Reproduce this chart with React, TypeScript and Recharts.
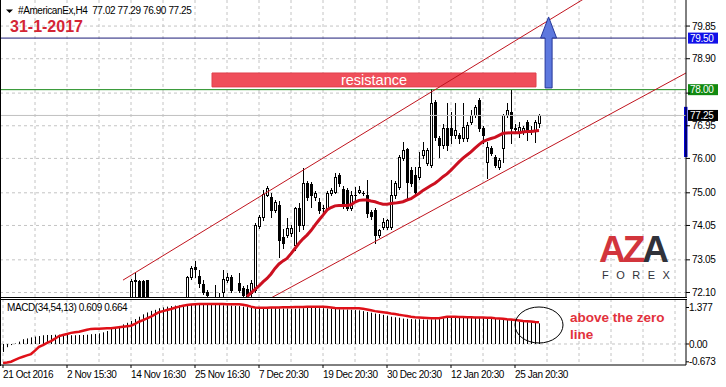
import React from 'react'
import {
  ComposedChart,
  Bar,
  Line,
  XAxis,
  YAxis,
  CartesianGrid,
  ReferenceLine,
  ReferenceArea,
  ReferenceDot,
} from 'recharts'

const FONT = "'Liberation Sans', Arial, sans-serif"

// x axis: one unit per H4 bar
const BAR_COUNT = 135
const X_DOMAIN = [-0.75, 170.75]
const GRID_X = [0, 8, 16, 24, 32, 40, 48, 56, 64, 72, 80, 88, 96, 104, 112, 120, 128, 136, 144, 152, 160, 168]
const DATE_TICKS = [0, 16, 32, 48, 64, 80, 96, 112, 128]
const DATE_LABELS = [
  '21 Oct 2016',
  '2 Nov 15:30',
  '14 Nov 16:30',
  '25 Nov 16:30',
  '7 Dec 20:30',
  '19 Dec 20:30',
  '30 Dec 20:30',
  '12 Jan 20:30',
  '25 Jan 20:30',
]

const PRICE_DOMAIN = [71.969, 80.608]
const PRICE_TICKS = [72.1, 73.05, 74.05, 75.0, 76.0, 76.95, 77.9, 78.9, 79.85]
const MACD_DOMAIN = [-0.7925, 1.698]
const MACD_TICKS = [-0.673, 0, 1.377]

// candles, first one at bar 32 (earlier bars sit below the visible range)
const CANDLE_FIRST = 32
const OPEN = [
  71.8, 72.42, 72.44, 72.44, 72.45, null, null, null, null, null,
  null, null, null, null, 71.85, 72.56, 72.83, 72.58, 72.35, 72.12,
  null, 71.95, 71.9, 72.1, 72.46, 72.56, null, 72.37, 72.22, 72.21,
  72.08, 72.17, 74.03, 74.3, 74.94, 74.89, 74.5, 74.65, 73.72, 73.77,
  73.82, 73.48, 74.55, 74.06, 75.28, 75.25, 74.89, 74.74, 74.55, 74.55,
  74.99, 75.03, 75.52, 75.1, 75.08, 74.55, 74.93, 75.03, 74.99, 74.94,
  74.45, 74.5, 73.77, 74.01, 74.01, 74.01, 74.94, 75.18, 76.0, 76.27,
  75.66, 75.52, 75.47, 76.1, 75.86, 75.81, 77.65, 76.59, 76.39, 76.88,
  76.88, 76.68, 76.68, 76.59, 76.59, 77.07, 77.26, 77.7, 76.88, 75.9,
  76.29, 76.05, 75.76, 76.29, 77.26, 77.36, 76.88, 76.78, 76.78, 77.07,
  76.83, 76.83, 77.02,
]
const HIGH = [
  72.5, 72.68, 72.46, 72.45, 72.46, null, null, null, null, null,
  null, null, null, null, 72.58, 72.87, 73.02, 72.75, 72.46, 72.18,
  null, 72.32, 72.08, 72.75, 72.66, 72.62, null, 72.66, 72.3, 72.32,
  72.46, 74.11, 74.35, 75.08, 75.2, 75.0, 74.8, 74.75, 73.95, 74.26,
  74.05, 74.6, 74.7, 75.71, 75.35, 75.3, 75.05, 74.84, 74.65, 75.05,
  75.15, 75.57, 75.57, 75.2, 75.15, 75.05, 75.18, 75.2, 75.05, 75.37,
  74.5, 74.55, 73.95, 74.26, 74.25, 75.37, 75.35, 76.1, 76.49, 76.3,
  75.75, 75.76, 76.2, 76.49, 76.3, 78.01, 77.7, 76.65, 77.0, 77.6,
  77.36, 77.6, 76.75, 77.6, 77.07, 77.41, 77.55, 77.75, 76.95, 76.49,
  76.35, 76.1, 76.0, 77.3, 77.6, 78.0, 77.0, 77.07, 76.95, 77.12,
  76.95, 77.12, 77.29,
]
const LOW = [
  71.7, 71.9, 71.7, 71.7, 71.8, null, null, null, null, null,
  null, null, null, null, 71.8, 72.5, 72.55, 72.27, 72.05, 71.9,
  null, 71.7, 71.7, 71.95, 72.4, 72.1, null, 72.1, 71.95, 71.9,
  72.0, 72.1, 73.97, 74.2, 74.9, 74.3, 74.45, 73.14, 73.4, 73.7,
  73.75, 73.35, 73.9, 73.95, 74.8, 74.6, 74.8, 74.4, 74.45, 74.5,
  74.95, 75.0, 75.2, 74.55, 74.5, 74.5, 74.8, 74.98, 74.93, 74.3,
  74.25, 73.53, 73.7, 73.95, 73.95, 73.95, 74.85, 75.1, 75.95, 74.84,
  75.2, 74.95, 75.4, 76.0, 75.8, 75.75, 76.55, 76.05, 76.3, 76.24,
  76.44, 76.6, 76.44, 76.5, 76.5, 77.0, 77.2, 76.8, 76.44, 75.43,
  76.1, 75.75, 75.7, 75.9, 77.2, 76.44, 76.75, 76.63, 76.7, 76.54,
  76.7, 76.49, 76.9,
]
const CLOSE = [
  72.44, 72.46, 71.8, 71.85, 71.9, null, null, null, null, null,
  null, null, null, null, 72.56, 72.8, 72.77, 72.37, 72.12, 72.03,
  null, 71.8, 71.85, 72.5, 72.56, 72.17, null, 72.17, 72.03, 71.98,
  72.37, 74.06, 74.29, 74.97, 75.13, 74.5, 74.74, 73.63, 73.53, 73.97,
  73.97, 74.55, 74.06, 75.28, 74.89, 74.94, 74.99, 74.5, 74.56, 74.99,
  75.08, 75.47, 75.28, 74.65, 74.56, 74.94, 74.95, 75.08, 75.0, 74.4,
  74.33, 73.77, 73.92, 74.16, 74.21, 74.94, 75.28, 76.05, 76.24, 75.32,
  75.28, 75.03, 75.76, 76.24, 76.24, 77.6, 76.63, 76.39, 76.88, 76.39,
  76.68, 76.83, 76.59, 76.92, 76.97, 77.26, 77.5, 76.88, 76.68, 76.34,
  76.15, 75.81, 75.95, 77.26, 77.41, 76.88, 76.86, 76.92, 76.88, 76.78,
  76.82, 77.07, 77.25,
]

// moving average, visible from bar 61
const MA_FIRST = 61
const MA = [
  71.98, 72.09, 72.19, 72.29, 72.41, 72.51, 72.64, 72.8, 72.93, 73.02,
  73.09, 73.23, 73.38, 73.53, 73.66, 73.77, 73.9, 74.06, 74.21, 74.35,
  74.5, 74.57, 74.62, 74.63, 74.63, 74.63, 74.65, 74.73, 74.78, 74.79,
  74.79, 74.76, 74.74, 74.7, 74.67, 74.67, 74.69, 74.7, 74.72, 74.74,
  74.79, 74.83, 74.91, 74.98, 75.07, 75.14, 75.21, 75.28, 75.37, 75.47,
  75.55, 75.66, 75.78, 75.9, 76.01, 76.1, 76.19, 76.3, 76.4, 76.49,
  76.54, 76.58, 76.61, 76.67, 76.73, 76.74, 76.75, 76.75, 76.75, 76.77,
  76.78, 76.78, 76.8, 76.81,
]

// MACD(34,54,13): main as histogram, signal as line
const MACD_HIST = [
  -0.3, -0.12, -0.04, 0.02, 0.09, 0.18, 0.21, 0.25, 0.28, 0.3,
  0.33, 0.34, 0.34, 0.35, 0.35, 0.35, 0.34, 0.33, 0.33, 0.34,
  0.34, 0.35, 0.37, 0.38, 0.4, 0.44, 0.49, 0.57, 0.62, 0.68,
  0.74, 0.8, 0.87, 0.94, 1.03, 1.12, 1.19, 1.25, 1.29, 1.35,
  1.38, 1.41, 1.43, 1.45, 1.46, 1.47, 1.47, 1.48, 1.48, 1.48,
  1.48, 1.48, 1.47, 1.47, 1.47, 1.46, 1.46, 1.45, 1.44, 1.43,
  1.41, 1.39, 1.37, 1.35, 1.34, 1.34, 1.35, 1.35, 1.35, 1.34,
  1.34, 1.34, 1.33, 1.33, 1.34, 1.35, 1.36, 1.36, 1.36, 1.35,
  1.35, 1.34, 1.33, 1.32, 1.31, 1.3, 1.3, 1.29, 1.28, 1.27,
  1.24, 1.21, 1.18, 1.15, 1.13, 1.1, 1.07, 1.03, 1.01, 0.99,
  0.96, 0.95, 0.94, 0.93, 0.93, 0.92, 0.92, 0.93, 0.93, 0.94,
  0.97, 1.0, 1.01, 1.02, 1.02, 1.02, 1.02, 1.02, 1.02, 1.02,
  1.01, 1.0, 0.99, 0.96, 0.93, 0.92, 0.91, 0.9, 0.87, 0.84,
  0.83, 0.82, 0.81, 0.79, 0.78,
]
const MACD_SIGNAL = [
  -0.72, -0.7, -0.67, -0.6, -0.53, -0.48, -0.43, -0.38, -0.25, -0.11,
  -0.04, 0.04, 0.11, 0.2, 0.3, 0.34, 0.38, 0.42, 0.44, 0.46,
  0.5, 0.54, 0.57, 0.575, 0.58, 0.585, 0.59, 0.59, 0.61, 0.63,
  0.65, 0.67, 0.69, 0.76, 0.84, 0.9, 0.97, 1.03, 1.12, 1.2,
  1.24, 1.28, 1.32, 1.37, 1.41, 1.44, 1.47, 1.49, 1.5, 1.51,
  1.51, 1.51, 1.51, 1.51, 1.51, 1.51, 1.5, 1.5, 1.5, 1.5,
  1.48, 1.45, 1.41, 1.38, 1.37, 1.37, 1.37, 1.38, 1.38, 1.38,
  1.39, 1.39, 1.39, 1.4, 1.4, 1.4, 1.41, 1.41, 1.41, 1.41,
  1.41, 1.4, 1.38, 1.36, 1.35, 1.35, 1.35, 1.35, 1.35, 1.35,
  1.33, 1.3, 1.27, 1.24, 1.22, 1.2, 1.18, 1.15, 1.13, 1.1,
  1.08, 1.06, 1.03, 1.01, 1.0, 0.99, 0.98, 0.97, 0.97, 0.97,
  1.0, 1.03, 1.03, 1.03, 1.02, 1.02, 1.01, 1.01, 1.0, 1.0,
  1.0, 0.99, 0.99, 0.97, 0.96, 0.95, 0.93, 0.92, 0.91, 0.89,
  0.87, 0.86, 0.85, 0.83, 0.82,
]

// drawn objects on the price panel (bar index, price)
const LEVEL_BLUE = 79.5
const LEVEL_GREEN = 78.0
const LAST_PRICE = 77.25
const UPPER_CHANNEL = [{ x: 30, y: 72.46 }, { x: 146.75, y: 80.75 }]
const LOWER_CHANNEL = [{ x: 66.75, y: 71.925 }, { x: 170.75, y: 78.485 }]
const RESISTANCE_BOX = { x1: 52.25, x2: 133.25, y1: 78.08, y2: 78.485 }
const ARROW_BASE = { x: 136.4, y: 78.05 }
const RANGE_MARK = { x1: 170.25, x2: 171.125, y1: 76.04, y2: 77.5 }

const priceRows = Array.from({ length: BAR_COUNT }, (_, i) => {
  const k = i - CANDLE_FIRST
  const o = k >= 0 ? OPEN[k] : null
  const m = i - MA_FIRST
  return {
    i,
    o,
    h: k >= 0 ? HIGH[k] : null,
    l: k >= 0 ? LOW[k] : null,
    c: k >= 0 ? CLOSE[k] : null,
    range: o != null ? [LOW[k], HIGH[k]] : null,
    ma: m >= 0 ? MA[m] : null,
  }
})

const macdRows = Array.from({ length: BAR_COUNT }, (_, i) => ({
  i,
  hist: MACD_HIST[i],
  signal: MACD_SIGNAL[i],
}))

function Candle(props: any) {
  const { x, y, width, height, payload } = props
  if (!payload || payload.o == null || !(height > 0)) return <g />
  const { o, h, l, c } = payload
  const k = height / (h - l)
  const cx = Math.round(x + width / 2)
  const yo = y + (h - o) * k
  const yc = y + (h - c) * k
  const top = Math.round(Math.min(yo, yc))
  const bot = Math.round(Math.max(yo, yc))
  return (
    <g>
      <line x1={cx + 0.5} x2={cx + 0.5} y1={Math.round(y)} y2={Math.round(y + height) + 1} stroke="#000" />
      {bot - top < 1 ? (
        <line x1={cx - 1} x2={cx + 2} y1={top + 0.5} y2={top + 0.5} stroke="#000" />
      ) : (
        <rect x={cx - 0.5} y={top + 0.5} width={2} height={bot - top} fill={c >= o ? '#fff' : '#000'} stroke="#000" />
      )}
    </g>
  )
}

function HistBar(props: any) {
  const { x, y, width, height } = props
  if (!(Math.abs(height) > 0)) return <g />
  const cx = Math.round(x + width / 2)
  return <rect x={cx} y={Math.min(y, y + height)} width={1} height={Math.abs(height)} fill="#000" />
}

function Arrow(props: any) {
  const { cx, cy } = props
  const pts = [
    [cx - 3.5, cy],
    [cx - 3.5, cy - 50],
    [cx - 8, cy - 50],
    [cx, cy - 71],
    [cx + 8, cy - 50],
    [cx + 3.5, cy - 50],
    [cx + 3.5, cy],
  ]
  return <polygon points={pts.map((p) => p.join(',')).join(' ')} fill="#5d78de" stroke="#26389a" strokeWidth={1} />
}

const priceTag = (bg: string, value: number) => (props: any) => {
  const vb = props.viewBox
  const x = vb.x + vb.width + 2
  const y = vb.y
  return (
    <g>
      <rect x={x} y={y - 5.5} width={30} height={11} fill={bg} />
      <text x={x + 2} y={y + 3.6} fill="#fff" fontSize={10} fontFamily={FONT} letterSpacing={-0.3}>
        {value.toFixed(2)}
      </text>
    </g>
  )
}

const resistanceLabel = (props: any) => {
  const vb = props.viewBox
  return (
    <text
      x={vb.x + vb.width / 2}
      y={vb.y + vb.height / 2 + 5}
      textAnchor="middle"
      fill="#fff"
      fontSize={14.5}
      fontFamily={FONT}
    >
      resistance
    </text>
  )
}

function PriceTick(props: any) {
  const { x, y, payload } = props
  if (payload.value === 77.9) return <g />
  return (
    <text x={x} y={y} dy={3.6} fontSize={10} fontFamily={FONT} letterSpacing={-0.3} fill="#000">
      {payload.value.toFixed(2)}
    </text>
  )
}

function MacdTick(props: any) {
  const { x, y, payload } = props
  const v = payload.value
  return (
    <text x={x} y={y} dy={3.6} fontSize={10} fontFamily={FONT} letterSpacing={-0.3} fill="#000">
      {v === 0 ? '0.00' : v.toFixed(3)}
    </text>
  )
}

function DateTick(props: any) {
  const { x, y, payload } = props
  const label = DATE_LABELS[DATE_TICKS.indexOf(payload.value)]
  return (
    <text x={x} y={y + 8} fontSize={10} fontFamily={FONT} letterSpacing={-0.4} fill="#000">
      {label}
    </text>
  )
}

const gridProps = { stroke: '#c4c4c4', strokeDasharray: '3 3' }

export default function App() {
  return (
    <div style={{ position: 'absolute', left: 0, top: 0, width: 726, height: 387, background: '#fff', overflow: 'hidden' }}>
      <div style={{ position: 'absolute', left: 0, top: 0 }}>
        <ComposedChart width={726} height={297} data={priceRows} margin={{ top: 0, right: 0, bottom: 0, left: 0 }}>
          <CartesianGrid {...gridProps} verticalValues={GRID_X} horizontalValues={PRICE_TICKS} />
          <XAxis type="number" dataKey="i" domain={X_DOMAIN} allowDataOverflow hide ticks={GRID_X} />
          <YAxis
            orientation="right"
            width={40}
            type="number"
            domain={PRICE_DOMAIN}
            allowDataOverflow
            ticks={PRICE_TICKS}
            interval={0}
            tickSize={4}
            tickMargin={2}
            axisLine={{ stroke: '#000' }}
            tickLine={{ stroke: '#000' }}
            tick={PriceTick}
          />
          <ReferenceArea {...RESISTANCE_BOX} fill="#ef4e5a" fillOpacity={1} stroke="#e0404c" label={resistanceLabel} />
          <ReferenceLine y={LAST_PRICE} stroke="#c0c0c0" label={priceTag('#000', LAST_PRICE)} />
          <ReferenceLine y={LEVEL_BLUE} stroke="#1c1c78" label={priceTag('#1010e8', LEVEL_BLUE)} />
          <ReferenceLine y={LEVEL_GREEN} stroke="#1a8a1a" label={priceTag('#118a11', LEVEL_GREEN)} />
          <ReferenceLine segment={UPPER_CHANNEL} stroke="#c0141e" ifOverflow="hidden" />
          <ReferenceLine segment={LOWER_CHANNEL} stroke="#c0141e" ifOverflow="hidden" />
          <Bar dataKey="range" barSize={3} shape={Candle} isAnimationActive={false} />
          <Line
            dataKey="ma"
            type="linear"
            stroke="#cc1020"
            strokeWidth={3}
            dot={false}
            activeDot={false}
            connectNulls={false}
            isAnimationActive={false}
          />
          <ReferenceDot x={ARROW_BASE.x} y={ARROW_BASE.y} r={1} shape={Arrow} />
          <ReferenceArea {...RANGE_MARK} fill="#0000dd" fillOpacity={1} ifOverflow="visible" />
        </ComposedChart>
      </div>

      <div style={{ position: 'absolute', left: 0, top: 299 }}>
        <ComposedChart width={726} height={88} data={macdRows} margin={{ top: 0, right: 0, bottom: 0, left: 0 }}>
          <CartesianGrid {...gridProps} verticalValues={GRID_X} horizontalValues={[0]} />
          <XAxis
            type="number"
            dataKey="i"
            domain={X_DOMAIN}
            allowDataOverflow
            ticks={DATE_TICKS}
            interval={0}
            height={22}
            tickSize={3}
            tickMargin={2}
            axisLine={{ stroke: '#000' }}
            tickLine={{ stroke: '#000' }}
            tick={DateTick}
          />
          <YAxis
            orientation="right"
            width={40}
            type="number"
            domain={MACD_DOMAIN}
            allowDataOverflow
            ticks={MACD_TICKS}
            interval={0}
            tickSize={3}
            tickMargin={0}
            axisLine={{ stroke: '#000' }}
            tickLine={{ stroke: '#000' }}
            tick={MacdTick}
          />
          <Bar dataKey="hist" barSize={1} shape={HistBar} isAnimationActive={false} />
          <Line
            dataKey="signal"
            type="linear"
            stroke="#e01018"
            strokeWidth={2.5}
            dot={false}
            activeDot={false}
            isAnimationActive={false}
          />
        </ComposedChart>
      </div>

      <svg
        width={726}
        height={387}
        style={{ position: 'absolute', left: 0, top: 0, pointerEvents: 'none' }}
      >
        {/* panel frames */}
        <line x1={0.5} x2={0.5} y1={0} y2={366} stroke="#000" />
        <line x1={0} x2={687} y1={297.5} y2={297.5} stroke="#000" />
        <line x1={0} x2={687} y1={299.5} y2={299.5} stroke="#000" />

        {/* header */}
        <polygon points="6,9.5 13,9.5 9.5,13" fill="#000" />
        <text x={18} y={14} fontSize={10} fontFamily={FONT} letterSpacing={-0.4} fill="#000" style={{ whiteSpace: 'pre' }}>
          {'#AmericanEx,H4  77.02 77.29 76.90 77.25'}
        </text>
        <text x={10} y={32} fontSize={16} fontWeight="bold" fontFamily={FONT} fill="#d42535">
          31-1-2017
        </text>

        {/* logo */}
        <text x={599} y={262} fontSize={37} fontWeight={900} fontFamily={FONT} letterSpacing={-3}>
          <tspan fill="#d2353c">A</tspan>
          <tspan fill="#d2353c">Z</tspan>
          <tspan fill="#30323a">A</tspan>
        </text>
        <text x={602} y={279} fontSize={11} fontFamily={FONT} letterSpacing={7.5} fill="#30323a">
          FOREX
        </text>

        {/* MACD panel notes */}
        <text x={7} y={311} fontSize={10} fontFamily={FONT} letterSpacing={-0.4} fill="#000">
          MACD(34,54,13) 0.609 0.664
        </text>
        <ellipse cx={539} cy={325} rx={24} ry={18} fill="none" stroke="#000" strokeWidth={1} />
        <text x={570} y={322} fontSize={13.5} fontWeight="bold" fontFamily={FONT} fill="#e2313c">
          above the zero
        </text>
        <text x={570} y={339} fontSize={13.5} fontWeight="bold" fontFamily={FONT} fill="#e2313c">
          line
        </text>
      </svg>
    </div>
  )
}
